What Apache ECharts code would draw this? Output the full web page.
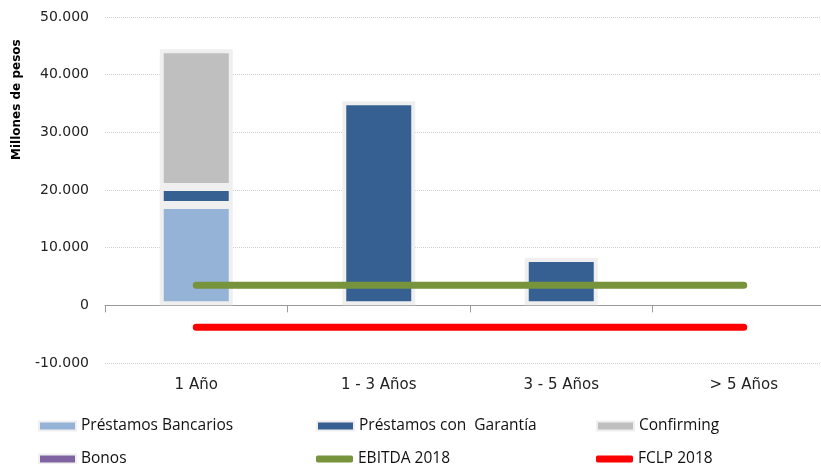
<!DOCTYPE html>
<html>
<head>
<meta charset="utf-8">
<script src="https://cdn.jsdelivr.net/npm/echarts@6/dist/echarts.min.js"></script>
<style>html,body{margin:0;padding:0;background:#fff;}#c{width:821px;height:464px;}</style>
</head>
<body>
<div id="c"></div>
<script>
const categories = ['1 Año', '1 - 3 Años', '3 - 5 Años', '> 5 Años'];
const prestamosBancarios = [17400, null, null, null];
const prestamosGarantia = [3100, 35400, 8200, null];
const confirming = [23900, null, null, null];
const bonos = [null, null, null, null];
const ebitda2018 = [3500, 3500, 3500, 3500];
const fclp2018 = [-3800, -3800, -3800, -3800];
const yTicks = [-10000, 0, 10000, 20000, 30000, 40000, 50000];

const names = ['Préstamos Bancarios', 'Préstamos con  Garantía', 'Confirming', 'Bonos', 'EBITDA 2018', 'FCLP 2018'];
const colors = ['#95B3D7', '#376092', '#BFBFBF', '#8064A2', '#77933C', '#FF0000'];

function fmt(v) {
  const s = Math.abs(v).toString().replace(/\B(?=(\d{3})+(?!\d))/g, '.');
  return (v < 0 ? '-' : '') + s;
}

const chart = echarts.init(document.getElementById('c'));

const barCommon = {
  type: 'bar', stack: 'deuda', barWidth: 73,
  itemStyle: { borderColor: '#efefef', borderWidth: 4 }
};
const legendPos = [[38, 418], [316, 418], [596, 418], [38, 451], [316, 451], [596, 451]];
const legends = names.map((n, i) => ({
  data: [n],
  left: legendPos[i][0], top: legendPos[i][1],
  padding: 0,
  itemWidth: 37, itemHeight: i >= 4 ? 7 : 9,
  itemGap: 0,
  icon: i >= 4 ? 'roundRect' : 'rect',
  textStyle: { fontFamily: 'Open Sans', fontSize: 15.5, color: '#111', padding: [0, 0, 0, 0] }
}));

chart.setOption({
  animation: false,
  color: colors,
  grid: { left: 105, right: -14, top: 17, bottom: 101, containLabel: false, outerBoundsMode: 'none' },
  legend: legends,
  xAxis: {
    type: 'category', data: categories,
    axisLine: { onZero: true, lineStyle: { color: '#9a9a9a', width: 1 } },
    axisTick: { show: true, length: 7, lineStyle: { color: '#9a9a9a' } },
    axisLabel: { margin: 15, fontFamily: 'DejaVu Sans', fontSize: 15, color: '#222' }
  },
  yAxis: {
    type: 'value', min: -10000, max: 50000, interval: 10000,
    axisLine: { show: false }, axisTick: { show: false },
    axisLabel: { margin: 16, fontFamily: 'DejaVu Sans', fontSize: 14, color: '#222', formatter: v => fmt(v) },
    splitLine: { lineStyle: { type: 'dotted', color: '#cfcfcf', width: 1 } }
  },
  graphic: [{
    type: 'text', rotation: Math.PI / 2,
    style: { text: 'Millones de pesos', fontFamily: 'DejaVu Sans', fontWeight: 'bold', fontSize: 12, fill: '#000' },
    x: 11, y: 160
  }],
  series: [
    Object.assign({}, barCommon, { name: names[0], data: prestamosBancarios }),
    Object.assign({}, barCommon, { name: names[1], data: prestamosGarantia }),
    Object.assign({}, barCommon, { name: names[2], data: confirming }),
    Object.assign({}, barCommon, { name: names[3], data: bonos }),
    { type: 'line', name: names[4], data: ebitda2018, symbol: 'none', z: 5,
      lineStyle: { width: 7, cap: 'round', color: colors[4] } },
    { type: 'line', name: names[5], data: fclp2018, symbol: 'none', z: 5,
      lineStyle: { width: 7, cap: 'round', color: colors[5] } }
  ]
});
</script>
</body>
</html>
